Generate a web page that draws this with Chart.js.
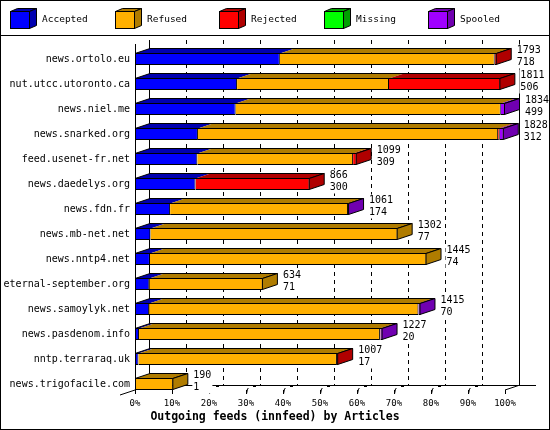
<!DOCTYPE html>
<html><head><meta charset="utf-8">
<script src="https://cdn.jsdelivr.net/npm/chart.js@4/dist/chart.umd.min.js"></script>
<style>html,body{margin:0;padding:0;background:#fff}</style>
</head><body>
<canvas id="c" width="550" height="430"></canvas>
<script>
const CATEGORIES = ['news.ortolo.eu','nut.utcc.utoronto.ca','news.niel.me','news.snarked.org','feed.usenet-fr.net','news.daedelys.org','news.fdn.fr','news.mb-net.net','news.nntp4.net','eternal-september.org','news.samoylyk.net','news.pasdenom.info','nntp.terraraq.uk','news.trigofacile.com'];
const ACCEPTED = [718,506,499,312,309,300,174,77,74,71,70,20,17,1];
const REFUSED  = [1065,753,1314,1488,772,0,882,1225,1371,563,1335,1194,984,189];
const REJECTED = [10,552,0,8,18,566,0,0,0,0,0,3,6,0];
const MISSING  = [0,0,0,0,0,0,0,0,0,0,0,0,0,0];
const SPOOLED  = [0,0,21,20,0,0,5,0,0,0,10,10,0,0];
const TOTALS   = [1793,1811,1834,1828,1099,866,1061,1302,1445,634,1415,1227,1007,190];
const TICK_LABELS = ['0%','10%','20%','30%','40%','50%','60%','70%','80%','90%','100%'];
const SERIES_NAMES = ['Accepted','Refused','Rejected','Missing','Spooled'];
const SERIES = [ACCEPTED, REFUSED, REJECTED, MISSING, SPOOLED];
const TITLE = 'Outgoing feeds (innfeed) by Articles';

const FRONT = ['#0000ff','#ffb000','#ff0000','#00ff00','#a000ff'];
const DARK  = ['#0000b0','#b07c00','#b00000','#00a000','#7000b0'];
const DX = 15, DY = 5;
const XMAX = Math.max(...TOTALS);
const MONO = 'DejaVu Sans Mono';

function poly(c, pts, fill, stroke){
  c.beginPath();
  c.moveTo(pts[0][0], pts[0][1]);
  for (let i=1;i<pts.length;i++) c.lineTo(pts[i][0], pts[i][1]);
  c.closePath();
  if (fill){ c.fillStyle = fill; c.fill(); }
  if (stroke){ c.strokeStyle = stroke; c.lineWidth = 1; c.stroke(); }
}

const threeD = {
  id: 'threeD',
  beforeDatasetsDraw(chart){
    const c = chart.ctx, xs = chart.scales.x, ca = chart.chartArea;
    const floor = ca.bottom - 6.5;
    const backFloor = floor - DY;
    const backTop = ca.top - 6.5;
    c.save();
    c.lineWidth = 1; c.strokeStyle = '#000';
    const n = TICK_LABELS.length - 1;
    for (let i=0;i<=n;i++){
      const bx = Math.round(xs.getPixelForValue(XMAX*i/n) + DX) - 0.5;
      c.setLineDash(i===0||i===n ? [] : [4,4]);
      c.beginPath(); c.moveTo(bx, backTop); c.lineTo(bx, backFloor); c.stroke();
    }
    c.setLineDash([]);
    const x0 = xs.getPixelForValue(0), x1 = xs.getPixelForValue(XMAX);
    c.beginPath(); c.moveTo(x0 + DX, backFloor + 0.5); c.lineTo(x1 + DX + 16, backFloor + 0.5); c.stroke();
    c.beginPath(); c.moveTo(x0 - 15, floor + 5); c.lineTo(x0, floor); c.stroke();
    c.beginPath(); c.moveTo(x1, floor); c.lineTo(x1 + DX, backFloor); c.stroke();
    for (let i=0;i<=n;i++){
      const fx = Math.round(xs.getPixelForValue(XMAX*i/n)) + 0.5;
      c.beginPath(); c.moveTo(fx, floor); c.lineTo(fx, floor + 4); c.stroke();
      if (i>=2 && i<n){
        c.beginPath(); c.moveTo(fx, floor + 4); c.lineTo(fx + 1, floor - 1); c.lineTo(fx + 2, floor - 2); c.stroke();
        c.fillStyle = '#000'; c.fillRect(fx + 6.5, backFloor, 3, 2);
      }
    }
    c.restore();
  },
  afterDatasetsDraw(chart){
    const c = chart.ctx, xs = chart.scales.x, ca = chart.chartArea;
    c.save();
    const metas = chart.data.datasets.map((d,k)=>chart.getDatasetMeta(k));
    for (let i=0;i<CATEGORIES.length;i++){
      let L = null, R = null, top = null, bot = null, lastK = -1;
      metas.forEach((m,k)=>{
        const v = chart.data.datasets[k].data[i];
        if (v === null || v === undefined) return;
        const el = m.data[i];
        const l = Math.min(el.base, el.x), r = Math.max(el.base, el.x);
        const t = el.y - el.height/2, b = el.y + el.height/2;
        top = Math.round(t) + 0.5; bot = Math.round(b) - 0.5;
        poly(c, [[l, top],[r, top],[r+DX, top-DY],[l+DX, top-DY]], DARK[k], null);
        if (L === null || l < L) L = l;
        if (R === null || r > R) { R = r; lastK = k; }
      });
      if (L === null) continue;
      const Rp = R - 0.5;
      poly(c, [[L, top],[Rp, top],[Rp+DX, top-DY],[L+DX, top-DY]], null, '#000');
      poly(c, [[Rp, top],[Rp+DX, top-DY],[Rp+DX, bot-DY],[Rp, bot]], DARK[lastK], '#000');
      c.font = '10px ' + MONO;
      c.textBaseline = 'middle'; c.textAlign = 'left';
      const tx = R + DX + 5;
      const l1 = String(TOTALS[i]), l2 = String(ACCEPTED[i]);
      const w = Math.max(c.measureText(l1).width, c.measureText(l2).width);
      c.fillStyle = '#fff';
      c.fillRect(tx - 1, top - 9, w + 2, 24);
      c.fillStyle = '#000';
      c.fillText(l1, tx, top - 3);
      c.fillText(l2, tx, top + 9);
    }
    const x0 = Math.round(xs.getPixelForValue(0)) + 0.5;
    c.strokeStyle = '#000'; c.lineWidth = 1;
    c.beginPath(); c.moveTo(x0, ca.top - 2.5); c.lineTo(x0, ca.bottom - 6.5); c.stroke();
    c.restore();
  },
  afterDraw(chart){
    const c = chart.ctx;
    c.save();
    c.strokeStyle = '#000'; c.lineWidth = 1;
    c.strokeRect(0.5, 0.5, 549, 429);
    c.beginPath(); c.moveTo(0, 35.5); c.lineTo(550, 35.5); c.stroke();
    chart.data.datasets.forEach((d,k)=>{
      const bx = 10.5 + Math.round(k*104.5);
      const by = 11.5, bw = 19, bh = 17, dx = 7, dy = 3;
      poly(c, [[bx,by],[bx+bw,by],[bx+bw+dx,by-dy],[bx+dx,by-dy]], DARK[k], '#000');
      poly(c, [[bx+bw,by],[bx+bw+dx,by-dy],[bx+bw+dx,by+bh-dy],[bx+bw,by+bh]], DARK[k], '#000');
      c.fillStyle = FRONT[k]; c.fillRect(bx, by, bw, bh); c.strokeRect(bx, by, bw, bh);
      c.fillStyle = '#000'; c.font = '9.5px ' + MONO; c.textBaseline = 'middle'; c.textAlign = 'left';
      c.fillText(d.label, bx + 31.5, 20);
    });
    c.restore();
  }
};

const chart = new Chart(document.getElementById('c'), {
  type: 'bar',
  data: {
    labels: CATEGORIES,
    datasets: SERIES.map((s,k)=>({
      label: SERIES_NAMES[k],
      data: s.map(v => v > 0 ? v : null),
      backgroundColor: FRONT[k],
      borderColor: '#000',
      borderWidth: 1,
      borderSkipped: 'start',
      barThickness: 12,
      inflateAmount: 0
    }))
  },
  options: {
    indexAxis: 'y',
    responsive: false,
    animation: false,
    devicePixelRatio: 1,
    layout: { padding: { left: 0, right: 0, top: 46.5, bottom: 0 } },
    plugins: {
      legend: { display: false },
      tooltip: { enabled: false },
      title: { display: true, position: 'bottom', text: TITLE, color: '#000',
        font: { family: MONO, size: 11.5, weight: 'bold' }, padding: { top: 0, bottom: 6 } }
    },
    scales: {
      x: {
        stacked: true, min: 0, max: XMAX,
        grid: { display: false, drawTicks: false }, border: { display: false },
        afterBuildTicks: s => { s.ticks = TICK_LABELS.map((t,i)=>({ value: XMAX*i/(TICK_LABELS.length-1) })); },
        ticks: { callback: (v,i) => TICK_LABELS[i], color: '#000', font: { family: MONO, size: 9 }, padding: 2, maxRotation: 0, autoSkip: false },
        afterFit: s => { s.height = 13.7; }
      },
      y: {
        stacked: true,
        grid: { display: false, drawTicks: false }, border: { display: false },
        ticks: { color: '#000', font: { family: MONO, size: 10 }, padding: 5, autoSkip: false },
        afterFit: s => { s.width = 135; }
      },
      yRight: {
        type: 'category', position: 'right', display: true,
        grid: { display: false, drawTicks: false }, border: { display: false },
        ticks: { display: false },
        afterFit: s => { s.width = 45; }
      }
    }
  },
  plugins: [threeD]
});
</script>
</body></html>
